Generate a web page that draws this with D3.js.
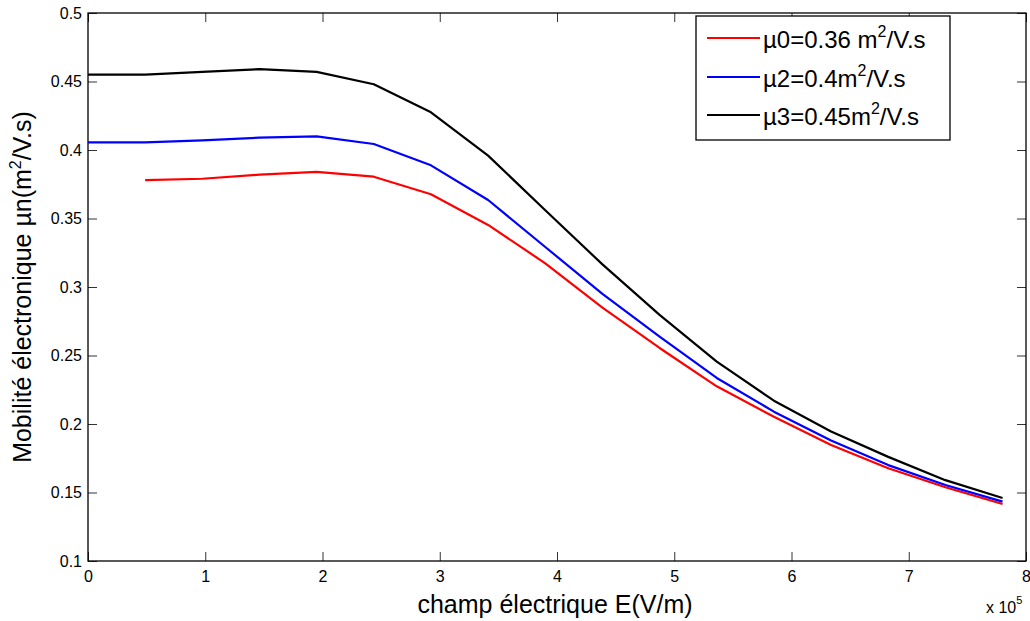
<!DOCTYPE html>
<html>
<head>
<meta charset="utf-8">
<script src="https://cdn.jsdelivr.net/npm/d3@7"></script>
<style>
  html, body { margin: 0; padding: 0; background: #fff; }
  svg { display: block; }
  text { font-family: "Liberation Sans", Arial, sans-serif; fill: #000; }
</style>
</head>
<body>
<svg id="chart" width="1030" height="621"></svg>
<script>
// Electric field (×10^5 V/m)
const fieldAll = [0, 0.4875, 0.975, 1.4625, 1.95, 2.4375, 2.925, 3.4125, 3.9, 4.3875, 4.875, 5.3625, 5.85, 6.3375, 6.825, 7.3125, 7.8];

// Electron mobility (m²/V.s) for three low-field mobilities
const mu0Field = fieldAll.slice(1);
const mu0Values = [0.378, 0.379, 0.382, 0.384, 0.3805, 0.3677, 0.3453, 0.3173, 0.2850, 0.2555, 0.2275, 0.2053, 0.1847, 0.1677, 0.1538, 0.1416];
const mu2Values = [0.4055, 0.4055, 0.4070, 0.4090, 0.4100, 0.4044, 0.3888, 0.3635, 0.3292, 0.2950, 0.2637, 0.2336, 0.2090, 0.1880, 0.1700, 0.1555, 0.1433];
const mu3Values = [0.455, 0.455, 0.457, 0.4590, 0.4570, 0.4480, 0.4275, 0.3959, 0.3560, 0.3165, 0.2796, 0.2455, 0.2170, 0.1945, 0.1760, 0.1590, 0.1460];

const xTicks = [0, 1, 2, 3, 4, 5, 6, 7, 8];
const yTicks = [0.1, 0.15, 0.2, 0.25, 0.3, 0.35, 0.4, 0.45, 0.5];

const seriesList = [
  { label: ["µ0=0.36 m", "2", "/V.s"], color: "#ff0000", x: mu0Field, y: mu0Values },
  { label: ["µ2=0.4m", "2", "/V.s"], color: "#0000ff", x: fieldAll, y: mu2Values },
  { label: ["µ3=0.45m", "2", "/V.s"], color: "#000000", x: fieldAll, y: mu3Values }
];

const svg = d3.select("#chart");
const m = { left: 88, top: 13, right: 1026, bottom: 561 };

const x = d3.scaleLinear().domain([0, 8]).range([m.left, m.right]);
const y = d3.scaleLinear().domain([0.1, 0.5]).range([m.bottom, m.top]);

const tickLen = 9;
const tickFmt = d => (d === 0 ? "0" : String(+d.toFixed(2)));

// Bottom and left axes with inward ticks
const gx = svg.append("g").attr("transform", `translate(0,${m.bottom})`)
  .call(d3.axisBottom(x).tickValues(xTicks).tickSizeInner(-tickLen).tickSizeOuter(0).tickPadding(10).tickFormat(d3.format("d")));
const gy = svg.append("g").attr("transform", `translate(${m.left},0)`)
  .call(d3.axisLeft(y).tickValues(yTicks).tickSizeInner(-tickLen).tickSizeOuter(0).tickPadding(6).tickFormat(tickFmt));
// Mirrored ticks on top and right
const gxt = svg.append("g").attr("transform", `translate(0,${m.top})`)
  .call(d3.axisTop(x).tickValues(xTicks).tickSizeInner(-tickLen).tickSizeOuter(0).tickFormat(""));
const gyr = svg.append("g").attr("transform", `translate(${m.right},0)`)
  .call(d3.axisRight(y).tickValues(yTicks).tickSizeInner(-tickLen).tickSizeOuter(0).tickFormat(""));

[gx, gy, gxt, gyr].forEach(g => {
  g.attr("font-size", 16).attr("font-family", "Liberation Sans, Arial, sans-serif");
  g.select(".domain").remove();
  g.selectAll(".tick line").attr("stroke", "#333").attr("stroke-width", 1);
  g.selectAll(".tick text").attr("fill", "#000");
});

// Axes box
svg.append("rect")
  .attr("x", m.left).attr("y", m.top)
  .attr("width", m.right - m.left).attr("height", m.bottom - m.top)
  .attr("fill", "none").attr("stroke", "#000").attr("stroke-width", 1.3);

// Data lines
const line = d3.line().x(d => x(d[0])).y(d => y(d[1]));
seriesList.forEach(s => {
  svg.append("path")
    .datum(s.x.map((v, i) => [v, s.y[i]]))
    .attr("d", line)
    .attr("fill", "none")
    .attr("stroke", s.color)
    .attr("stroke-width", 2.2)
    .attr("stroke-linejoin", "round");
});

// Axis titles
svg.append("text")
  .attr("x", 555).attr("y", 613)
  .attr("text-anchor", "middle").attr("font-size", 25)
  .text("champ électrique E(V/m)");

const yt = svg.append("text")
  .attr("transform", `translate(31,${(m.top + m.bottom) / 2}) rotate(-90)`)
  .attr("text-anchor", "middle").attr("font-size", 25);
yt.append("tspan").text("Mobilité électronique µn(m");
yt.append("tspan").attr("font-size", 16).attr("dy", -10).text("2");
yt.append("tspan").attr("dy", 10).text("/V.s)");

// Exponent label
const ex = svg.append("text").attr("x", 986).attr("y", 613).attr("font-size", 16);
ex.append("tspan").text("x 10");
ex.append("tspan").attr("font-size", 11).attr("dy", -9).text("5");

// Legend
const lg = svg.append("g");
lg.append("rect")
  .attr("x", 696).attr("y", 16).attr("width", 254).attr("height", 124)
  .attr("fill", "#fff").attr("stroke", "#000").attr("stroke-width", 1.3);
const rowY = [38, 77, 115];
seriesList.forEach((s, i) => {
  lg.append("line")
    .attr("x1", 707).attr("x2", 760)
    .attr("y1", rowY[i]).attr("y2", rowY[i])
    .attr("stroke", s.color).attr("stroke-width", 2.2);
  const t = lg.append("text").attr("x", 763).attr("y", rowY[i] + 10).attr("font-size", 24);
  t.append("tspan").text(s.label[0]);
  t.append("tspan").attr("font-size", 16).attr("dy", -11).text(s.label[1]);
  t.append("tspan").attr("dy", 11).text(s.label[2]);
});
</script>
</body>
</html>
